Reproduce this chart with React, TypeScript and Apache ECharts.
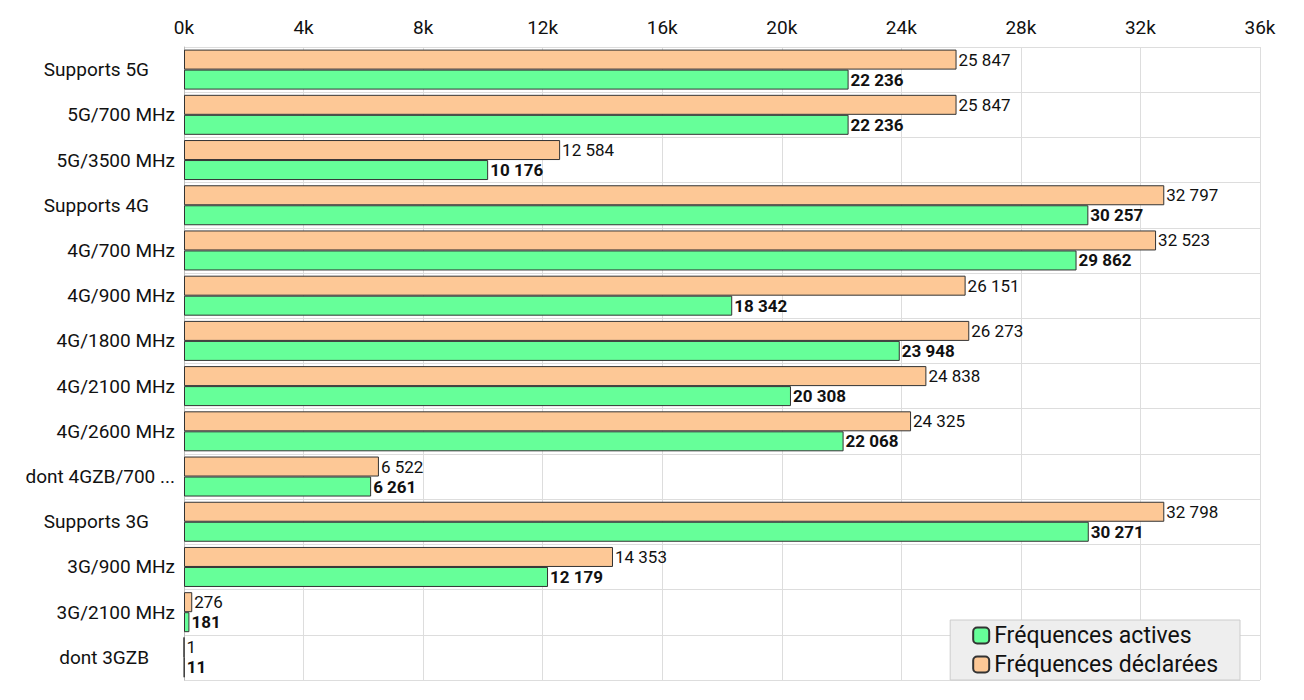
import React, { useEffect, useRef } from 'react';
import * as echarts from 'echarts';

const categories = [
  'Supports 5G', '5G/700 MHz', '5G/3500 MHz', 'Supports 4G', '4G/700 MHz', '4G/900 MHz',
  '4G/1800 MHz', '4G/2100 MHz', '4G/2600 MHz', 'dont 4GZB/700 MHz', 'Supports 3G',
  '3G/900 MHz', '3G/2100 MHz', 'dont 3GZB',
];
const declared = [25847, 25847, 12584, 32797, 32523, 26151, 26273, 24838, 24325, 6522, 32798, 14353, 276, 1];
const active = [22236, 22236, 10176, 30257, 29862, 18342, 23948, 20308, 22068, 6261, 30271, 12179, 181, 11];
const padded = ['Supports 5G', 'Supports 4G', 'Supports 3G', 'dont 3GZB'];

const fmt = (v: number) => String(v).replace(/\B(?=(\d{3})+(?!\d))/g, ' ');

const App: React.FC = () => {
  const ref = useRef<HTMLDivElement>(null);
  useEffect(() => {
    if (!ref.current) return;
    const chart = echarts.init(ref.current, undefined, { renderer: 'svg' });
    const font = 'Roboto, sans-serif';
    chart.setOption({
      animation: false,
      textStyle: { fontFamily: font },
      grid: { left: 184, right: 44, top: 47, bottom: 20 },
      legend: {
        orient: 'vertical',
        right: 64,
        bottom: 20,
        data: ['Fréquences actives', 'Fréquences déclarées'],
        backgroundColor: '#eeeeee',
        borderColor: '#cccccc',
        borderWidth: 1,
        padding: [4, 22, 4, 22],
        itemGap: 6,
        itemWidth: 16,
        itemHeight: 16,
        textStyle: { fontSize: 23, color: '#111', fontFamily: font },
      },
      xAxis: {
        type: 'value',
        position: 'top',
        min: 0,
        max: 36000,
        interval: 4000,
        axisLabel: { formatter: (v: number) => `${v / 1000}k`, fontSize: 19, color: '#111', margin: 10 },
        axisLine: { show: false },
        axisTick: { show: false },
        splitLine: { lineStyle: { color: '#dddddd' } },
      },
      yAxis: {
        type: 'category',
        inverse: true,
        data: categories,
        axisTick: { show: false },
        axisLine: { lineStyle: { color: '#bbbbbb' } },
        splitLine: { show: true, lineStyle: { color: '#dddddd' } },
        axisLabel: {
          color: '#111',
          fontSize: 19,
          margin: 9,
          formatter: (v: string) => (padded.includes(v) ? `{p|${v}}` : v),
          rich: { p: { fontSize: 19, color: '#111', padding: [0, 26, 0, 0] } },
          overflow: 'truncate',
          width: 162,
        },
      },
      series: [
        {
          name: 'Fréquences déclarées',
          type: 'bar',
          data: declared,
          barWidth: 20,
          barGap: '0%',
          itemStyle: { color: '#fdc896', borderColor: '#333', borderWidth: 1 },
          label: { show: true, position: 'right', distance: 2, fontSize: 17, color: '#111', formatter: (p: any) => fmt(p.value) },
        },
        {
          name: 'Fréquences actives',
          type: 'bar',
          data: active,
          barWidth: 20,
          barGap: '0%',
          itemStyle: { color: '#66ff99', borderColor: '#333', borderWidth: 1 },
          label: { show: true, position: 'right', distance: 2, fontSize: 17, fontWeight: 'bold', color: '#111', formatter: (p: any) => fmt(p.value) },
        },
      ],
    });
    return () => chart.dispose();
  }, []);
  return <div ref={ref} style={{ position: 'fixed', left: 0, top: 0, width: 1304, height: 700, background: '#fff' }} />;
};

export default App;
